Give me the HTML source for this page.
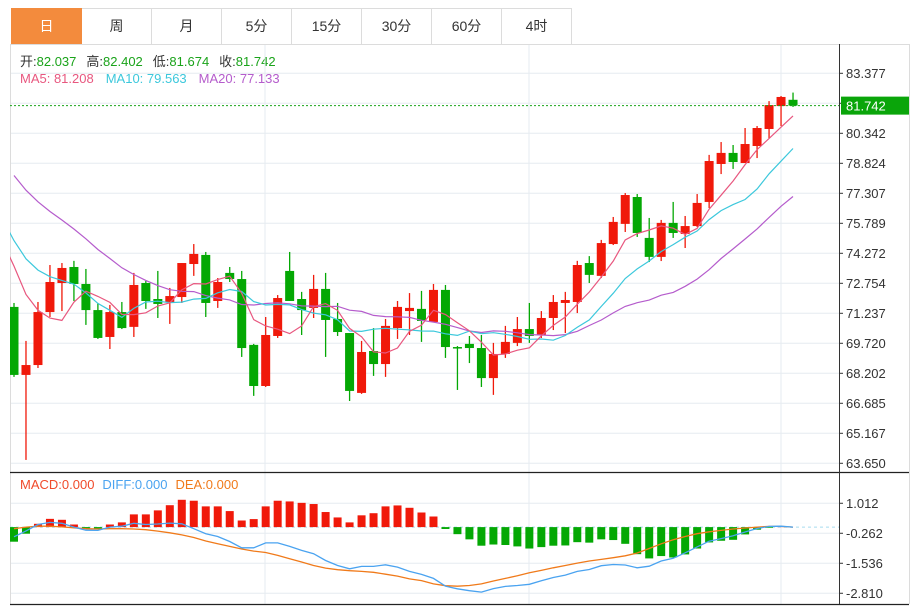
<!DOCTYPE html>
<html><head><meta charset="utf-8">
<style>
body{margin:0;background:#fff;width:917px;height:606px;overflow:hidden;font-family:"Liberation Sans","Noto Sans CJK SC",sans-serif}
#tabs{position:absolute;left:11px;top:8px;height:36px;display:flex}
.tab{width:69px;height:35px;border:1px solid #dcdcdc;border-left:none;line-height:35px;text-align:center;font-size:14px;color:#333;box-sizing:content-box}
.tab:first-child{border-left:1px solid #dcdcdc}
.tab.on{background:#f38b3d;color:#fff;border-color:#f38b3d}
svg{position:absolute;left:0;top:0}
</style></head><body>
<div id="tabs">
<div class="tab on">日</div>
<div class="tab">周</div>
<div class="tab">月</div>
<div class="tab">5分</div>
<div class="tab">15分</div>
<div class="tab">30分</div>
<div class="tab">60分</div>
<div class="tab">4时</div>
</div>
<svg id="chart" width="917" height="606" font-family="Liberation Sans, Noto Sans CJK SC, sans-serif">
<text x="20" y="66" font-size="13"><tspan fill="#333">开:</tspan><tspan fill="#1aa31a">82.037</tspan><tspan fill="#333" dx="10">高:</tspan><tspan fill="#1aa31a">82.402</tspan><tspan fill="#333" dx="10">低:</tspan><tspan fill="#1aa31a">81.674</tspan><tspan fill="#333" dx="10">收:</tspan><tspan fill="#1aa31a">81.742</tspan></text>
<text x="20" y="83" font-size="13"><tspan fill="#e8577f">MA5: 81.208</tspan><tspan fill="#3cc8dc" dx="12">MA10: 79.563</tspan><tspan fill="#b55ccc" dx="12">MA20: 77.133</tspan></text>
<text x="20" y="489" font-size="13"><tspan fill="#f04a2a">MACD:0.000</tspan><tspan fill="#4aa3f0" dx="8">DIFF:0.000</tspan><tspan fill="#f07a1a" dx="8">DEA:0.000</tspan></text>
</svg>
<script>
const opens=[71.56,68.12,68.62,71.30,72.77,73.58,72.72,71.40,70.04,71.30,70.55,72.77,71.96,71.81,72.06,73.73,74.19,71.86,73.28,72.97,69.64,67.56,70.09,73.38,71.96,71.51,72.47,70.95,70.24,67.21,69.33,68.67,70.49,71.35,71.46,70.80,72.42,69.53,69.69,69.48,67.96,69.18,69.74,70.44,70.14,71.00,71.76,71.81,73.78,73.13,74.74,75.76,77.12,75.05,74.09,75.81,75.25,75.65,76.87,78.79,79.35,78.84,79.70,80.56,81.72,82.037];
const highs=[71.76,69.84,71.81,73.68,73.78,73.89,73.48,71.76,71.66,71.81,73.28,72.87,73.38,72.52,73.78,74.74,74.34,73.02,73.58,73.38,69.69,71.05,72.16,74.34,72.32,73.18,73.28,71.76,70.24,69.84,70.49,70.95,71.86,72.26,72.37,72.72,72.67,69.58,70.09,70.14,69.74,70.60,71.05,71.76,71.35,72.16,72.32,73.89,74.13,74.95,76.11,77.32,77.27,76.06,75.96,76.87,76.16,77.27,79.25,79.90,79.75,80.61,80.71,81.97,82.23,82.402];
const lows=[68.02,63.82,68.47,71.05,71.35,71.86,70.65,69.94,69.43,70.44,70.04,71.46,71.00,70.70,71.76,73.13,71.05,71.51,72.82,69.03,67.06,67.51,69.99,71.86,70.14,71.00,69.03,70.09,66.80,67.16,68.07,68.02,69.94,70.14,69.79,70.80,68.98,67.36,68.72,67.51,67.11,68.98,69.58,69.74,69.99,70.39,70.24,71.25,72.77,73.02,74.69,75.35,75.10,73.83,73.88,75.05,74.54,75.60,76.56,78.28,78.54,78.84,79.09,80.10,80.71,81.674];
const closes=[68.12,68.62,71.30,72.82,73.53,72.72,71.40,69.99,71.30,70.49,72.67,71.86,71.71,72.11,73.78,74.24,71.76,72.82,72.97,69.48,67.56,70.14,72.01,71.86,71.40,72.47,70.90,70.29,67.31,69.28,68.67,70.60,71.56,71.51,70.85,72.42,69.53,69.48,69.48,67.96,69.18,69.79,70.44,70.09,71.00,71.81,71.91,73.68,73.18,74.79,75.86,77.22,75.30,74.09,75.81,75.30,75.65,76.82,78.94,79.35,78.89,79.80,80.61,81.77,82.18,81.742];
const priorCloses=[83.5,83.0,82.6,82.2,81.8,81.3,80.8,80.4,79.9,79.5,77.8,77.0,76.2,75.4,74.6,75.8,75.3,74.8,74.1];
const macdBars=[-0.62,-0.28,0.14,0.35,0.31,0.11,-0.07,-0.10,0.11,0.20,0.54,0.54,0.71,0.93,1.16,1.12,0.88,0.88,0.68,0.28,0.34,0.88,1.12,1.09,1.03,0.98,0.64,0.41,0.20,0.50,0.59,0.88,0.92,0.82,0.62,0.45,-0.08,-0.30,-0.52,-0.79,-0.74,-0.76,-0.82,-0.91,-0.85,-0.79,-0.78,-0.64,-0.66,-0.52,-0.55,-0.71,-1.15,-1.33,-1.23,-1.29,-1.16,-0.91,-0.65,-0.58,-0.54,-0.31,-0.11,-0.03,0.03,0];
const diffVals=[-0.41,-0.16,0.11,0.20,0.16,0,-0.13,-0.14,0,0.04,0.16,0.11,0.13,0.17,0.14,-0.07,-0.28,-0.40,-0.61,-0.88,-0.88,-0.67,-0.67,-0.82,-0.99,-1.13,-1.42,-1.63,-1.77,-1.67,-1.67,-1.60,-1.70,-1.88,-2.01,-2.18,-2.51,-2.62,-2.70,-2.76,-2.61,-2.52,-2.48,-2.43,-2.28,-2.14,-2.04,-1.88,-1.80,-1.64,-1.59,-1.61,-1.73,-1.66,-1.44,-1.32,-1.09,-0.84,-0.60,-0.49,-0.37,-0.21,-0.06,0.03,0.04,0];
const deaVals=[-0.07,0,0.04,0.04,0.01,-0.03,-0.07,-0.08,-0.07,-0.07,-0.08,-0.11,-0.17,-0.24,-0.33,-0.44,-0.59,-0.71,-0.82,-0.93,-1.02,-1.08,-1.20,-1.34,-1.48,-1.63,-1.74,-1.81,-1.85,-1.88,-1.92,-2.00,-2.08,-2.20,-2.27,-2.41,-2.49,-2.51,-2.48,-2.41,-2.29,-2.18,-2.07,-1.94,-1.84,-1.73,-1.63,-1.53,-1.44,-1.37,-1.30,-1.22,-1.10,-0.91,-0.71,-0.54,-0.40,-0.28,-0.20,-0.14,-0.08,-0.04,0,0.03,0.03,0];
const priceTicks=["83.377","81.860","80.342","78.824","77.307","75.789","74.272","72.754","71.237","69.720","68.202","66.685","65.167","63.650"];
const macdTicks=["1.012","-0.262","-1.536","-2.810"];
const lastPrice="81.742";

const NS="http://www.w3.org/2000/svg";
const svg=document.getElementById('chart');
const L=10,R=839,RB=909,TOP=44,MB=472,BOT=604;
const x=i=>14+i*11.985;
const yP=p=>73.3+(parseFloat(priceTicks[0])-p)*30/1.5175;
function yMacd(v){return 527.1-v*30/1.274;}
function mk(tag,attrs,parent){const e=document.createElementNS(NS,tag);for(const k in attrs)e.setAttribute(k,attrs[k]);(parent||svg).appendChild(e);return e;}
const defs=mk('defs',{});
const cp=mk('clipPath',{id:'clipMain'},defs);mk('rect',{x:L,y:TOP,width:R-L,height:MB-TOP},cp);
const cp2=mk('clipPath',{id:'clipMacd'},defs);mk('rect',{x:L,y:MB,width:R-L,height:BOT-MB},cp2);

const grid=mk('g',{});


priceTicks.forEach(t=>{const y=yP(parseFloat(t));if(y>TOP&&y<MB)mk('line',{x1:L,x2:R,y1:y,y2:y,stroke:'#e6ebf0','stroke-width':1},grid);});
macdTicks.forEach(t=>{const y=yMacd(parseFloat(t));mk('line',{x1:L,x2:R,y1:y,y2:y,stroke:'#e6ebf0','stroke-width':1},grid);});
[265,529,781].forEach(gx=>{mk('line',{x1:gx,x2:gx,y1:TOP,y2:BOT,stroke:'#e6ebf0','stroke-width':1},grid);});
mk('line',{x1:L+0.5,x2:L+0.5,y1:TOP,y2:BOT,stroke:'#dcdcdc'});
mk('line',{x1:RB+0.5,x2:RB+0.5,y1:TOP,y2:BOT,stroke:'#dcdcdc'});
mk('line',{x1:L,x2:RB,y1:TOP+0.5,y2:TOP+0.5,stroke:'#dcdcdc'});
mk('line',{x1:L,x2:RB,y1:MB+0.5,y2:MB+0.5,stroke:'#222','stroke-width':1.2});
mk('line',{x1:L,x2:RB,y1:BOT+0.5,y2:BOT+0.5,stroke:'#222','stroke-width':1.2});
mk('line',{x1:R+0.5,x2:R+0.5,y1:TOP,y2:BOT,stroke:'#333'});

const ax=mk('g',{});


priceTicks.forEach(t=>{const y=yP(parseFloat(t));if(y<TOP+15)return;mk('line',{x1:R,x2:R+4,y1:y,y2:y,stroke:'#333'},ax);const tx=mk('text',{x:R+7,y:y+4.5,'font-size':13,fill:'#333'},ax);tx.textContent=t;});
const ax2=mk('g',{});


macdTicks.forEach(t=>{const y=yMacd(parseFloat(t));mk('line',{x1:R,x2:R+4,y1:y,y2:y,stroke:'#333'},ax2);const tx=mk('text',{x:R+7,y:y+4.5,'font-size':13,fill:'#333'},ax2);tx.textContent=t;});

const cg=mk('g',{'clip-path':'url(#clipMain)'});


closes.forEach((c,i)=>{
  const o=opens[i],up=c>=o,col=up?'#f0190a':'#04a804';
  const g=mk('g',{},cg);
  
  
  mk('line',{x1:x(i),x2:x(i),y1:yP(highs[i]),y2:yP(lows[i]),stroke:col,'stroke-width':1.3},g);
  const t=yP(Math.max(o,c)),b=yP(Math.min(o,c));
  mk('rect',{x:x(i)-4.5,y:t,width:9,height:Math.max(1.5,b-t),fill:col},g);
});
const all=priorCloses.concat(closes),off=priorCloses.length;
function ma(n,color,name){
  let pts=[];
  for(let i=-1;i<closes.length;i++){const k=i+off;if(k-n+1<0)continue;let s=0;for(let j=k-n+1;j<=k;j++)s+=all[j];pts.push(x(i).toFixed(1)+','+yP(s/n).toFixed(1));}
  const p=mk('polyline',{points:pts.join(' '),fill:'none',stroke:color,'stroke-width':1.2,'clip-path':'url(#clipMain)'});
  
  
}
ma(20,'#b55ccc','ma20-line');ma(10,'#3cc8dc','ma10-line');ma(5,'#e8577f','ma5-line');

const ly=yP(parseFloat(lastPrice));
const pl=mk('line',{x1:L,x2:R,y1:ly,y2:ly,stroke:'#1aa31a','stroke-dasharray':'2,2'});


const pb=mk('rect',{x:R+2,y:ly-9,width:RB-R-2,height:18,fill:'#0aa50a'});


const pt=mk('text',{x:R+7,y:ly+5,'font-size':13,fill:'#fff'});pt.textContent=lastPrice;

const z=yMacd(0);
const zl=mk('line',{x1:L,x2:R,y1:z,y2:z,stroke:'#a8dcef','stroke-dasharray':'3,3'});


const mg=mk('g',{'clip-path':'url(#clipMacd)'});


macdBars.forEach((v,i)=>{const y=yMacd(v);const r=mk('rect',{x:x(i)-4,y:Math.min(y,z),width:8,height:Math.abs(y-z),fill:v>=0?'#f0190a':'#04a804'},mg);

});
function line(vals,color,name){const pts=vals.map((v,i)=>x(i).toFixed(1)+','+yMacd(v).toFixed(1));const p=mk('polyline',{points:pts.join(' '),fill:'none',stroke:color,'stroke-width':1.3});

}
line(deaVals,'#f07a1a','dea-line');line(diffVals,'#4aa3f0','diff-line');
</script>
</body></html>
